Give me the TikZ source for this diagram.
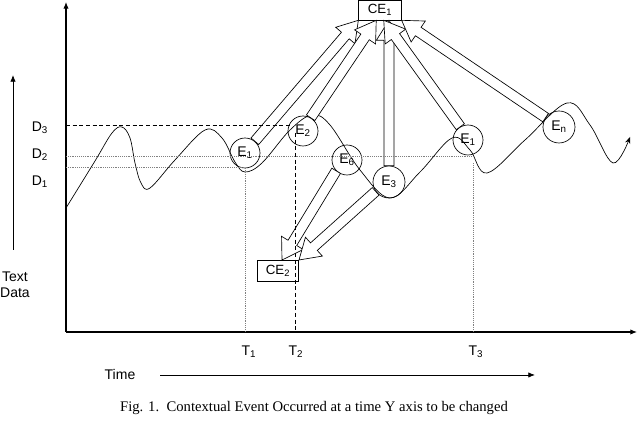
\documentclass[tikz,border=0pt]{standalone}
\usepackage{fontspec}
\setmainfont{Liberation Sans}
\newfontfamily\capfont{Liberation Serif}
\usetikzlibrary{arrows.meta,calc}

\tikzset{
  event/.style={draw, circle, minimum size=22.5pt, inner sep=0pt, line width=0.5pt, font=\fontsize{10.5}{12}\selectfont},
  cebox/.style={draw, rectangle, minimum width=32pt, minimum height=15pt, inner sep=0pt, line width=0.5pt, font=\fontsize{10}{11}\selectfont},
  lbl/.style={font=\fontsize{10.5}{12}\selectfont},
  guide/.style={densely dotted, gray, line width=0.4pt},
  dguide/.style={dash pattern=on 3pt off 2pt, line width=0.7pt},
  blockarr/.style={draw, fill=white, line width=0.5pt, line join=miter},
}

% hollow block arrow from #1 to tip #2
\newcommand{\blockarrow}[2]{%
  \coordinate (ba-c) at ($(#2)!15pt!(#1)$);
  \draw[blockarr] ($(#1)!3.8pt!90:(#2)$) -- ($(ba-c)!3.8pt!90:(#2)$) -- ($(ba-c)!9.5pt!90:(#2)$) -- (#2)
    -- ($(ba-c)!9.5pt!-90:(#2)$) -- ($(ba-c)!3.8pt!-90:(#2)$) -- ($(#1)!3.8pt!-90:(#2)$) -- cycle;}

\begin{document}
\begin{tikzpicture}[x=0.75pt,y=0.75pt]
\useasboundingbox (0,0) rectangle (640,423);

% axes
\coordinate (O) at (66,91);
\draw[line width=0.8pt,-{Latex[length=5pt,width=4pt]}] (O) -- (66,421);
\draw[line width=0.8pt,-{Latex[length=5pt,width=4pt]}] (O) -- (637,91);

% the data curve
\draw[line width=0.5pt,-{Stealth[length=5pt,width=4pt]}] plot[smooth, tension=0.6] coordinates {
  (66,215) (95,262) (112,290) (122,296) (130,285) (135,260) (141,240) (150,235)
  (175,263) (205,293) (222,285) (235,261) (245,251) (262,260) (290,293) (312,308)
  (330,298) (360,253) (390,225) (420,251) (452,285) (470,273) (487,250) (525,283)
  (567,320) (590,298) (613,260) (630,286)};

% events
\node[event] (E1) at (245,270) {E\textsubscript{1}};
\node[event] (E2) at (303,292) {E\textsubscript{2}};
\node[event] (E6) at (347,263) {E\textsubscript{6}};
\node[event, minimum size=24pt] (E3) at (389,241) {E\textsubscript{3}};
\node[event] (E1r) at (468,283) {E\textsubscript{1}};
\node[event, minimum size=24pt] (En) at (559,296) {E\textsubscript{n}};
\node[cebox] (CE1) at (380,413) {CE\textsubscript{1}};
\node[cebox, minimum width=31pt, minimum height=16pt] (CE2) at (278,152) {CE\textsubscript{2}};
\coordinate (ce1t) at (E3.north |- CE1.south);

% block arrows
\blockarrow{E1.50}{CE1.south west}
\blockarrow{E2.60}{CE1.250}
\blockarrow{E3.north}{ce1t}
\blockarrow{E1r.120}{CE1.290}
\blockarrow{En.145}{CE1.south east}
\blockarrow{E6.225}{CE2.70}
\blockarrow{E3.215}{CE2.north east}

% guide lines
\draw[dguide] (66,298) -- (290,298);
\draw[dguide] (295,290) -- (295,91);
\draw[guide] (66,267) -- (473,267);
\draw[guide] (66,256) -- (245,256);
\draw[guide] (E1.south) -- (E1.south |- O);
\draw[guide] (473,260) -- (473,91);

% labels
\node[lbl] (D3) at (40,295) {D\textsubscript{3}};
\node[lbl] (D2) at (40,268) {D\textsubscript{2}};
\node[lbl] (D1) at (40,241) {D\textsubscript{1}};
\node[lbl] (T1) at (249,71) {T\textsubscript{1}};
\node[lbl] (T2) at (296,71) {T\textsubscript{2}};
\node[lbl] (T3) at (476,71) {T\textsubscript{3}};
\node[lbl, align=center] (tdata) at (15,138) {Text\\Data};
\draw[line width=0.6pt,-{Latex[length=5pt,width=4pt]}] (13,173) -- (13,348);
\node[lbl] (time) at (120,48) {Time};
\draw[line width=0.6pt,-{Latex[length=5pt,width=4pt]}] ($(time.east)+(20,0)$) -- (535,48);
\node[font=\capfont\fontsize{11}{13}\selectfont] (cap) at (314,15) {Fig. 1.\ \ Contextual Event Occurred at a time Y axis to be changed};
\end{tikzpicture}
\end{document}
